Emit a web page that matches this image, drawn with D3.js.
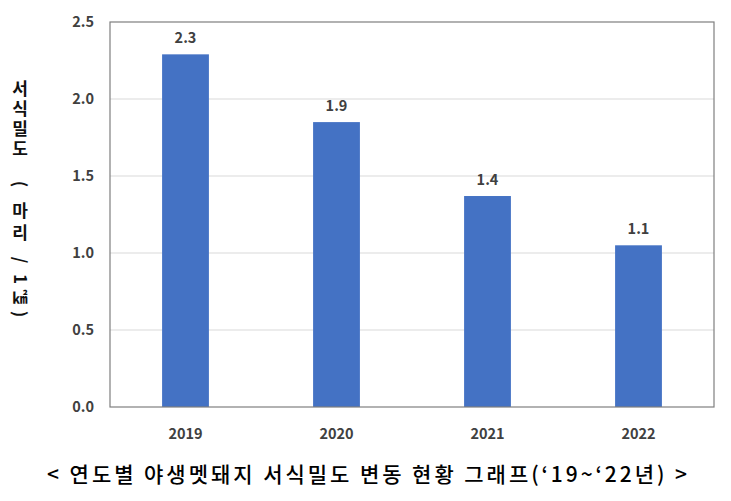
<!DOCTYPE html>
<html><head><meta charset="utf-8">
<script src="https://cdn.jsdelivr.net/npm/d3@7"></script>
<style>body{margin:0;background:#fff;} svg{display:block;}</style>
</head><body>
<svg id="c" width="731" height="501"></svg>
<script>
const years = ["2019","2020","2021","2022"];
const values = [2.29, 1.85, 1.37, 1.05];
const valueLabels = ["2.3","1.9","1.4","1.1"];
const yTicks = [0, 0.5, 1.0, 1.5, 2.0, 2.5];
const yTitleParts = ["서식밀도","(","마리","/","1","㎢",")"];
const caption = "< 연도별 야생멧돼지 서식밀도 변동 현황 그래프(‘19~‘22년) >";

const svg = d3.select("#c");
const m = {l:110, r:714, t:22, b:407};
const font = "'Noto Sans CJK KR','Noto Sans',sans-serif";
const x = d3.scaleBand().domain(years).range([m.l, m.r]).paddingInner(0.69).paddingOuter(0.345);
const y = d3.scaleLinear().domain([0, 2.5]).range([m.b, m.t]);

// gridlines
svg.append("g").selectAll("line").data(yTicks.slice(1,-1)).join("line")
  .attr("x1", m.l).attr("x2", m.r).attr("y1", d=>y(d)).attr("y2", d=>y(d))
  .attr("stroke", "#d9d9d9").attr("stroke-width", 1);

// bars
svg.append("g").selectAll("rect").data(values).join("rect")
  .attr("x", (d,i)=>x(years[i])).attr("width", x.bandwidth())
  .attr("y", d=>y(d)).attr("height", d=>y(0)-y(d))
  .attr("fill", "#4472C4");

// frame
svg.append("rect").attr("x", m.l).attr("y", m.t).attr("width", m.r-m.l).attr("height", m.b-m.t)
  .attr("fill", "none").attr("stroke", "#7f7f7f").attr("stroke-width", 1.2);

// y axis labels
const yAxis = d3.axisLeft(y).tickValues(yTicks).tickFormat(d3.format(".1f")).tickSize(0).tickPadding(16);
const gy = svg.append("g").attr("transform", `translate(${m.l},0)`).call(yAxis);
gy.select(".domain").remove();
gy.selectAll("text").attr("font-family", font).attr("font-weight", "bold")
  .attr("font-size", 14.5).attr("fill", "#404040");

// x axis labels
const xAxis = d3.axisBottom(x).tickSize(0).tickPadding(22);
const gx = svg.append("g").attr("transform", `translate(0,${m.b})`).call(xAxis);
gx.select(".domain").remove();
gx.selectAll("text").attr("font-family", font).attr("font-weight", "bold")
  .attr("font-size", 14.5).attr("fill", "#404040");

// value labels
svg.append("g").selectAll("text").data(values).join("text")
  .attr("x", (d,i)=>x(years[i]) + x.bandwidth()/2).attr("y", d=>y(d) - 11)
  .attr("text-anchor", "middle").attr("font-family", font).attr("font-weight", "bold")
  .attr("font-size", 14.5).attr("fill", "#404040").text((d,i)=>valueLabels[i]);

// vertical y title: Korean parts stacked upright, Latin parts turned 90°
const partPos = [80, 184, 202, 260, 279, 289, 314];   // top of upright parts / centre of turned parts
const turned = new Set(["(",")","/","1"]);
const gt = svg.append("g").attr("font-family", font).attr("font-weight", "bold").attr("fill", "#111");
yTitleParts.forEach((p,i)=>{
  if (turned.has(p)) {
    gt.append("text").attr("transform", `translate(20,${partPos[i]}) rotate(90)`)
      .attr("text-anchor","middle").attr("dy","0.35em").attr("font-size", 17).text(p);
  } else {
    gt.append("text").attr("x", 20).attr("y", partPos[i])
      .style("writing-mode","vertical-rl")
      .attr("font-size", p==="㎢" ? 15 : 17)
      .attr("letter-spacing", p==="마리" ? 5 : 3).text(p);
  }
});

// caption
svg.append("text").attr("x", 367).attr("y", 482).attr("text-anchor","middle")
  .attr("font-family", font).attr("font-size", 21).attr("font-weight", 500).attr("fill","#000")
  .attr("textLength", 640).attr("lengthAdjust", "spacing").text(caption);
</script>
</body></html>
